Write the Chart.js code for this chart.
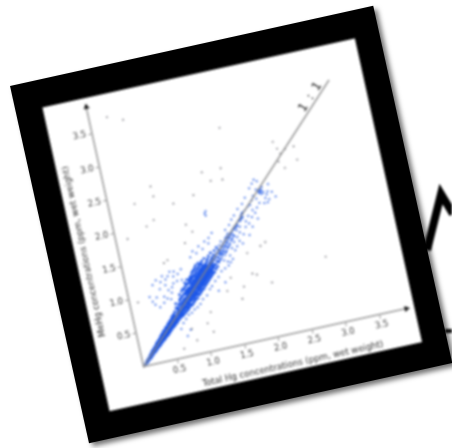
<!DOCTYPE html>
<html>
<head>
<meta charset="utf-8">
<script src="https://cdn.jsdelivr.net/npm/chart.js@4/dist/chart.umd.min.js"></script>
<style>
html, body { margin: 0; padding: 0; background: #fff; overflow: hidden; }
#scribble { position: absolute; left: 0; top: 0; filter: blur(0.8px); }
#frame {
    position: absolute; left: 10px; top: 86px; width: 372px; height: 366px;
    background: #000; transform-origin: 0 0; transform: rotate(-12.47deg);
    box-shadow: 3px 4px 5px rgba(0, 0, 0, 0.55);
}
#chart { position: absolute; left: 26.6px; top: 27.7px; background: #fff; filter: blur(0.8px); }
</style>
</head>
<body>
<svg id="scribble" width="452" height="448">
    <polyline points="427,250 441,194 453,214" fill="none" stroke="#000" stroke-width="8"/>
    <line x1="445" y1="331" x2="452" y2="331" stroke="#111" stroke-width="4"/>
</svg>
<div id="frame"><canvas id="chart" width="320" height="311"></canvas></div>
<script>
const tickValues = [0.5, 1.0, 1.5, 2.0, 2.5, 3.0, 3.5];
const xAxisTitle = 'Total Hg concentrations (ppm, wet weight)';
const yAxisTitle = 'MeHg concentrations (ppm, wet weight)';
const oneToOne = [[0, 0], [3.52, 3.52]];

// lower end of the band
const lowBand = [[.03,.03],[.05,.04],[.06,.07],[.07,.05],[.08,.09],[.09,.07],[.1,.11],[.11,.09],[.12,.13],[.13,.1],[.13,.15],[.14,.12],[.15,.17],[.16,.13],[.16,.16],[.17,.2],[.18,.15],[.18,.18],[.19,.22],[.2,.17],[.2,.2],[.21,.24],[.22,.18],[.22,.22],[.23,.26],[.24,.2],[.24,.24],[.25,.29],[.26,.22],[.26,.26],[.27,.31],[.28,.24],[.28,.28],[.29,.33],[.3,.25],[.3,.3],[.31,.35],[.32,.27],[.32,.32],[.33,.38],[.34,.29],[.34,.34],[.35,.4],[.36,.31],[.36,.36],[.37,.42],[.38,.32],[.38,.38],[.39,.45],[.4,.34],[.4,.4],[.41,.46],[.42,.36],[.42,.42],[.43,.49],[.44,.37],[.44,.44],[.45,.5],[.46,.39],[.46,.46],[.47,.53],[.48,.41],[.48,.48],[.49,.55],[.5,.43],[.5,.5],[.51,.57],[.52,.45],[.52,.52],[.53,.59],[.54,.47],[.54,.54],[.55,.62],[.56,.48],[.56,.56],[.57,.64],[.58,.5],[.58,.58],[.59,.66],[.6,.52],[.6,.6]];

// closes the gaps either side of the line in the lower band
const lowFill = [[.25,.26],[.27,.26],[.29,.27],[.3,.33],[.32,.29],[.33,.35],[.35,.33],[.36,.39],[.38,.35],[.39,.41],[.4,.37],[.41,.43],[.43,.39],[.44,.47],[.45,.41],[.46,.43],[.47,.49],[.48,.44],[.49,.51],[.5,.46],[.51,.53],[.52,.48],[.53,.55],[.54,.5],[.55,.58],[.56,.52],[.57,.6],[.58,.54],[.6,.63],[.6,.56]];

// thick part of the band
const midBand = [[.62,.53],[.62,.58],[.63,.63],[.61,.69],[.64,.74],[.64,.56],[.65,.61],[.64,.66],[.66,.71],[.66,.57],[.67,.62],[.66,.68],[.67,.74],[.65,.8],[.68,.59],[.69,.65],[.68,.7],[.69,.77],[.7,.6],[.71,.64],[.7,.69],[.71,.73],[.7,.79],[.72,.85],[.72,.61],[.73,.67],[.72,.72],[.73,.78],[.72,.83],[.74,.63],[.75,.68],[.74,.75],[.75,.8],[.74,.87],[.73,.92],[.76,.64],[.77,.7],[.76,.76],[.77,.83],[.76,.88],[.78,.66],[.79,.71],[.78,.78],[.79,.84],[.78,.9],[.77,.96],[.8,.67],[.81,.72],[.8,.79],[.81,.85],[.8,.91],[.79,.99],[.82,.69],[.83,.75],[.82,.8],[.83,.87],[.82,.93],[.81,.98],[.84,.71],[.85,.76],[.84,.83],[.85,.88],[.84,.95],[.83,1.01],[.84,1.07],[.86,.73],[.87,.79],[.86,.84],[.87,.91],[.86,.97],[.85,1.03],[.88,.73],[.89,.8],[.88,.87],[.89,.93],[.88,.99],[.87,1.05],[.88,1.11],[.9,.75],[.91,.81],[.9,.87],[.91,.93],[.9,.98],[.89,1.05],[.91,1.1],[.92,.77],[.93,.83],[.92,.88],[.93,.95],[.92,1.01],[.91,1.07],[.93,1.13],[.94,.79],[.95,.85],[.94,.91],[.95,.97],[.94,1.03],[.93,1.09],[.95,1.15],[.96,.81],[.97,.86],[.96,.93],[.97,.99],[.96,1.05],[.95,1.11],[.97,1.19],[.98,.81],[.99,.88],[.98,.95],[.99,1.01],[.98,1.07],[.97,1.13],[.99,1.21],[1,.85],[1.01,.91],[1,.97],[1.01,1.03],[1,1.09],[.99,1.15],[1.01,1.23]];

// upper half of the dense part
const highBand = [[1.02,.86],[1.03,.92],[1.02,.98],[1.03,1.04],[1.02,1.1],[1.01,1.16],[1.03,1.26],[1.04,.88],[1.05,.94],[1.04,1],[1.05,1.06],[1.04,1.12],[1.03,1.19],[1.05,1.29],[1.06,.9],[1.07,.96],[1.06,1.02],[1.07,1.08],[1.06,1.14],[1.05,1.22],[1.08,.92],[1.09,.98],[1.08,1.04],[1.09,1.1],[1.08,1.16],[1.07,1.24],[1.09,1.31],[1.1,.93],[1.11,1],[1.1,1.06],[1.11,1.12],[1.1,1.18],[1.09,1.26],[1.12,.96],[1.13,1.02],[1.12,1.08],[1.13,1.14],[1.12,1.2],[1.11,1.28],[1.14,.98],[1.15,1.04],[1.14,1.1],[1.15,1.16],[1.14,1.22],[1.13,1.3],[1.16,1],[1.17,1.06],[1.16,1.12],[1.17,1.18],[1.16,1.24],[1.15,1.33],[1.18,1.02],[1.19,1.08],[1.18,1.14],[1.19,1.2],[1.18,1.26],[1.2,1.04],[1.21,1.1],[1.2,1.16],[1.21,1.22],[1.2,1.28],[1.19,1.36],[1.22,1.06],[1.23,1.12],[1.22,1.18],[1.23,1.24],[1.22,1.31],[1.24,1.08],[1.25,1.14],[1.24,1.2],[1.25,1.27],[1.24,1.34],[1.26,1.1],[1.27,1.16],[1.26,1.23],[1.27,1.29],[1.26,1.38],[1.28,1.12],[1.29,1.19],[1.28,1.25],[1.29,1.32],[1.3,1.13],[1.31,1.21],[1.3,1.28],[1.31,1.35],[1.3,1.42],[1.33,1.17],[1.34,1.24],[1.33,1.31],[1.34,1.38],[1.36,1.2],[1.37,1.28],[1.36,1.34],[1.36,1.44],[1.39,1.26],[1.4,1.33],[1.39,1.39],[1.4,1.48],[1.42,1.29],[1.43,1.37],[1.42,1.44]];

// filling between the others where the band is solid blue
const coreFill = [[.33,.3],[.37,.35],[.41,.38],[.45,.43],[.49,.46],[.53,.5],[.57,.54],[.59,.61],[.61,.56],[.63,.59],[.65,.64],[.67,.66],[.69,.62],[.69,.68],[.71,.67],[.73,.7],[.73,.75],[.75,.72],[.75,.77],[.77,.73],[.77,.79],[.79,.74],[.79,.81],[.81,.76],[.81,.82],[.83,.78],[.83,.84],[.83,.91],[.85,.8],[.85,.86],[.85,.92],[.87,.82],[.87,.88],[.87,.94],[.89,.84],[.89,.9],[.89,.96],[.91,.85],[.91,.9],[.91,.96],[.93,.86],[.93,.92],[.93,.98],[.93,1.05],[.95,.88],[.95,.94],[.95,1],[.97,.9],[.97,.96],[.97,1.02],[.97,1.08],[.99,.91],[.99,.98],[.99,1.04],[1.01,.94],[1.01,1],[1.01,1.06],[1.01,1.12],[1.03,.95],[1.03,1.01],[1.03,1.07],[1.03,1.13],[1.05,.97],[1.05,1.03],[1.05,1.09],[1.05,1.16],[1.07,.99],[1.07,1.05],[1.07,1.11],[1.07,1.18],[1.09,1.01],[1.09,1.07],[1.09,1.13],[1.09,1.2],[1.11,1.03],[1.11,1.09],[1.11,1.15],[1.11,1.22],[1.13,1.05],[1.13,1.11],[1.13,1.17],[1.13,1.24],[1.15,1.07],[1.15,1.13],[1.15,1.19],[1.15,1.27],[1.17,1.09],[1.17,1.15],[1.17,1.21],[1.19,1.11],[1.19,1.17],[1.19,1.23],[1.21,1.13],[1.21,1.19],[1.21,1.25],[1.23,1.15],[1.23,1.21],[1.25,1.17],[1.25,1.23],[1.27,1.19],[1.27,1.26],[1.29,1.22],[1.31,1.24]];

// sparse part up the 1:1 line
const upperBand = [[1.45,1.32],[1.46,1.42],[1.45,1.5],[1.47,1.27],[1.48,1.38],[1.49,1.47],[1.48,1.55],[1.5,1.34],[1.51,1.44],[1.52,1.52],[1.52,1.24],[1.54,1.4],[1.55,1.49],[1.55,1.58],[1.57,1.32],[1.58,1.45],[1.59,1.55],[1.6,1.64],[1.62,1.42],[1.63,1.52],[1.64,1.6],[1.66,1.38],[1.67,1.5],[1.68,1.68],[1.69,1.58],[1.7,1.43],[1.72,1.72],[1.73,1.56],[1.74,1.66],[1.75,1.5],[1.77,1.75],[1.78,1.62],[1.79,1.45],[1.8,1.7],[1.82,1.78],[1.83,1.58],[1.84,1.84],[1.85,1.81],[1.86,1.87],[1.87,1.83],[1.88,1.68],[1.88,1.9],[1.9,1.76],[1.91,1.55],[1.92,1.92],[1.94,1.72],[1.95,1.83],[1.97,1.96],[1.98,1.66],[2,1.8],[2.01,1.98],[2.03,1.9],[1.7,1.83],[1.75,1.88],[1.65,1.76],[1.58,1.7],[1.82,1.96],[1.9,2.02],[1.96,2.1]];

// darker run just above the solid part
const upperFill = [[1.44,1.4],[1.46,1.36],[1.47,1.46],[1.49,1.41],[1.5,1.5],[1.52,1.38],[1.53,1.47],[1.54,1.54],[1.56,1.44],[1.57,1.52],[1.58,1.6],[1.6,1.48],[1.61,1.58],[1.63,1.63],[1.65,1.55],[1.66,1.64],[1.68,1.6],[1.7,1.68],[1.73,1.7],[1.76,1.72],[1.8,1.79],[1.83,1.81],[1.85,1.85],[1.87,1.88]];

// top of the line, clump near 2.2
const topBand = [[2.05,2.04],[2.06,1.85],[2.08,2.1],[2.1,1.92],[2.12,2.05],[2.14,2.18],[2.15,1.98],[2.17,2.14],[2.18,2.12],[2.19,2.16],[2.2,2.13],[2.2,2.17],[2.21,2.1],[2.22,2.15],[2.23,2.2],[2.24,2.12],[2.22,1.96],[2.25,2.03],[2.27,1.96],[2.28,2.08],[2.3,2.0],[2.3,2.12],[2.05,2.22],[2.1,2.28],[2.14,2.33],[2.18,2.3],[2.33,2.22],[2.36,2.1],[2.4,2.02],[2.08,1.76]];

// loose points left of the band
const leftWing = [[.3,.98],[.33,.9],[.36,.85],[.38,1.14],[.4,.95],[.42,.8],[.44,1.2],[.47,1.06],[.49,.85],[.5,1.16],[.51,.94],[.54,1.24],[.55,.9],[.56,1.1],[.58,1.18],[.59,1.02],[.6,.88],[.62,1.22],[.63,.97],[.65,1.05],[.66,1.28],[.68,1.1],[.7,1.2],[.72,1.27],[.74,1.12],[.77,1.22],[.81,1.12],[.83,1.28],[1.0,1.42],[1.05,1.5],[1.1,1.46],[1.15,1.55],[1.2,1.5],[1.25,1.6],[1.3,1.56],[1.34,2.0],[1.35,1.97],[1.36,2.03],[1.32,1.64],[1.38,1.7]];

// loose points right of the band
const rightWing = [[.65,.42],[.7,.5],[.75,.55],[.8,.6],[.85,.62],[.9,.66],[.95,.68],[1.0,.72],[1.05,.78],[1.12,.82],[1.18,.9],[1.22,.94],[1.28,1],[1.34,1.05],[1.4,1.12],[1.46,1.15],[1.52,1.18],[1.56,1.22],[1.6,1.26],[1.42,.95],[1.3,.85],[.72,.3],[.78,.38]];

// single faint points away from the band
const outliers = [[.26,3.69],[.48,3.6],[1.82,3.18],[1.43,2.6],[1.71,2.6],[1.53,2.45],[1.7,2.43],[.66,2.56],[.67,2.41],[.38,2.36],[.93,2.24],[1.24,2.3],[.6,2.07],[.48,2],[.17,1.88],[1.04,1.9],[1.11,1.78],[.97,1.64],[.67,1.45],[.61,1.42],[.12,.94],[2.53,2.81],[2.57,2.7],[2.68,2.67],[2.81,2.68],[2.82,2.48],[2.6,2.62],[2.55,2.51],[2.62,2.4],[2.92,1],[2.08,.8],[2.11,1.4],[2.03,1.36],[1.82,1.3],[1.83,.99],[1.89,.96],[1.67,.83],[1.61,.66],[1.51,1],[1.42,.82],[1.1,.28],[1.04,.42],[1.12,.57],[.84,.21],[.63,.13],[.8,.39]];

// axis arrow heads sit at the end of each axis
const axisMax = 3.9;

const bandColor = '#1a55e8';
const looseColor = '#2a60e6';
const outlierColor = '#6e6e76';

function toPoints(pairs) {
    return pairs.map(p => ({ x: p[0], y: p[1] }));
}

function scatterSet(pairs, color, radius) {
    return {
        data: toPoints(pairs),
        backgroundColor: color,
        borderWidth: 0,
        pointRadius: radius,
        showLine: false
    };
}

// axis titles and the 1 : 1 note
const notesPlugin = {
    id: 'notes',
    afterDraw(chart) {
        const ctx = chart.ctx;
        const x = chart.scales.x;
        const y = chart.scales.y;
        ctx.save();
        ctx.textAlign = 'center';
        ctx.textBaseline = 'middle';
        ctx.fillStyle = '#333';
        ctx.font = '8.7px "DejaVu Sans"';
        ctx.fillText(xAxisTitle, x.getPixelForValue(2.12), 305);

        ctx.save();
        ctx.translate(10, y.getPixelForValue(1.84));
        ctx.rotate(-Math.PI / 2);
        ctx.fillText(yAxisTitle, 0, 0);
        ctx.restore();

        ctx.translate(x.getPixelForValue(3.21), y.getPixelForValue(3.34));
        ctx.rotate(-Math.PI / 4);
        ctx.fillStyle = '#111';
        ctx.font = '12px "DejaVu Sans"';
        ctx.letterSpacing = '1.5px';
        ctx.fillText('1 : 1', 0, 0);
        ctx.restore();
    }
};

function axisOptions(fitSide, fitSize) {
    return {
        type: 'linear',
        min: 0,
        max: axisMax,
        afterBuildTicks(scale) {
            scale.ticks = tickValues.map(v => ({ value: v }));
        },
        afterFit(scale) {
            scale[fitSide] = fitSize;
        },
        border: { color: '#999', width: 1.5 },
        grid: { drawOnChartArea: false, color: '#999', tickLength: 4, tickWidth: 1 },
        ticks: {
            color: '#444',
            font: { family: '"DejaVu Sans"', size: 8.5 },
            padding: 2,
            maxRotation: 0,
            callback: v => v.toFixed(1)
        }
    };
}

new Chart(document.getElementById('chart').getContext('2d'), {
    type: 'scatter',
    data: {
        datasets: [
            {
                data: toPoints(oneToOne),
                showLine: true,
                borderColor: '#888',
                borderWidth: 1.3,
                pointRadius: 0
            },
            scatterSet(outliers, outlierColor, 0.9),
            scatterSet(leftWing, looseColor, 1),
            scatterSet(rightWing, looseColor, 1),
            scatterSet(upperBand, looseColor, 1),
            scatterSet(topBand, looseColor, 1),
            scatterSet(upperFill, bandColor, 1.2),
            scatterSet(lowBand, bandColor, 1.35),
            scatterSet(lowFill, bandColor, 1.35),
            scatterSet(midBand, bandColor, 1.35),
            scatterSet(highBand, bandColor, 1.35),
            scatterSet(coreFill, bandColor, 1.3),
            {
                data: [{ x: axisMax, y: 0 }],
                pointStyle: 'triangle',
                rotation: 90,
                pointRadius: 3.5,
                backgroundColor: '#111',
                borderWidth: 0,
                clip: false
            },
            {
                data: [{ x: 0, y: axisMax }],
                pointStyle: 'triangle',
                rotation: 0,
                pointRadius: 3.5,
                backgroundColor: '#111',
                borderWidth: 0,
                clip: false
            }
        ]
    },
    options: {
        responsive: false,
        animation: false,
        layout: { padding: { top: 9, right: 8, left: 0, bottom: 0 } },
        plugins: { legend: { display: false }, tooltip: { enabled: false } },
        scales: {
            x: axisOptions('height', 36),
            y: axisOptions('width', 43)
        }
    },
    plugins: [notesPlugin]
});
</script>
</body>
</html>
